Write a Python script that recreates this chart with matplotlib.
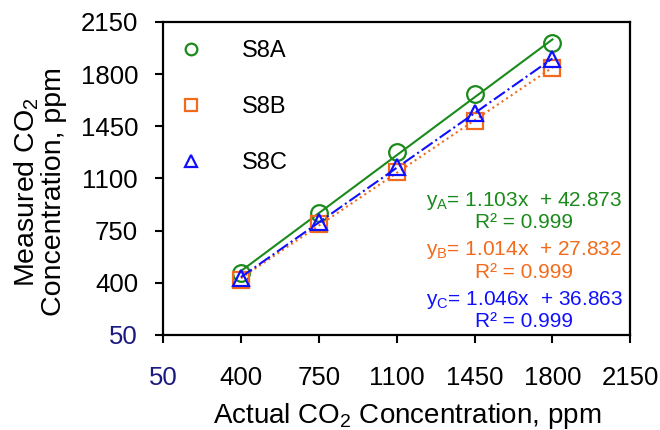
import numpy as np
import matplotlib.pyplot as plt

plt.rcParams['font.family'] = ['Liberation Sans', 'DejaVu Sans']
plt.rcParams['mathtext.fontset'] = 'custom'
plt.rcParams['mathtext.rm'] = 'Liberation Sans'
plt.rcParams['mathtext.it'] = 'Liberation Sans'

# data
actual = [400, 750, 1100, 1450, 1800]
s8a = [464, 866, 1276, 1665, 2007]
s8b = [419, 795, 1144, 1488, 1839]
s8c = [430, 810, 1179, 1537, 1900]
ticks = [50, 400, 750, 1100, 1450, 1800, 2150]

eq_a = r'$\mathregular{y_A}$= 1.103x  + 42.873'
eq_b = r'$\mathregular{y_B}$= 1.014x  + 27.832'
eq_c = r'$\mathregular{y_C}$= 1.046x  + 36.863'
r2 = 'R² = 0.999'

green = '#1a8a1a'
orange = '#f26b1d'
blue = '#1010ff'

fig = plt.figure(figsize=(6.6, 4.3), dpi=100)
ax = fig.add_axes([0.247, 0.221, 0.708, 0.728])

series = [
    ('S8A', s8a, green, 'o', '-'),
    ('S8B', s8b, orange, 's', ':'),
    ('S8C', s8c, blue, '^', '-.'),
]
x = np.array(actual)
for name, ys, col, mk, ls in series:
    ax.plot(x, ys, linestyle='none', marker=mk, ms=12, mfc='none',
            mec=col, mew=1.6, label=name)
    k, b = np.polyfit(x, ys, 1)
    ax.plot(x, k * x + b, color=col, ls=ls, lw=1.5)

ax.set_xlim(50, 2150)
ax.set_ylim(50, 2150)
ax.set_xticks(ticks)
ax.set_yticks(ticks)
ax.tick_params(direction='out', length=6, width=1.5, labelsize=18.5)
ax.tick_params(axis='x', pad=16)
ax.tick_params(axis='y', pad=12)
for lab in [ax.get_xticklabels()[0], ax.get_yticklabels()[0]]:
    lab.set_color('#1a1a80')
for s in ax.spines.values():
    s.set_linewidth(1.6)

ax.set_xlabel(r'Actual CO$_2$ Concentration, ppm', fontsize=20)
ax.xaxis.set_label_coords(0.522, -0.212)
ax.set_ylabel('Measured CO$_2$\nConcentration, ppm', fontsize=20.5,
              linespacing=1.0, multialignment='center')
ax.yaxis.set_label_coords(-0.205, 0.457)

ax.legend(loc='upper left', frameon=False, fontsize=17, markerscale=0.7,
          handlelength=1.0, handletextpad=1.65, labelspacing=1.45,
          borderaxespad=0.3, bbox_to_anchor=(0.0, 0.995))

texts = [
    (eq_a, 0.428, green), (r2, 0.358, green),
    (eq_b, 0.272, orange), (r2, 0.198, orange),
    (eq_c, 0.112, blue), (r2, 0.042, blue),
]
for t, yy, col in texts:
    ax.text(0.773, yy, t, transform=ax.transAxes, ha='center', va='center',
            color=col, fontsize=15)

fig.savefig('out.png', dpi=100)
